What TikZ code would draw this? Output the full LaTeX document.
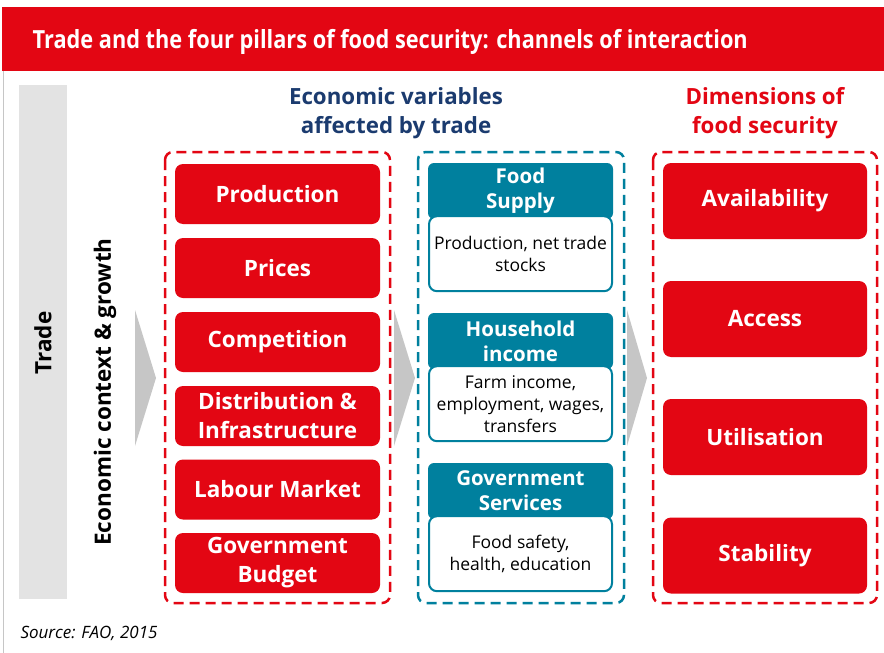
\documentclass[tikz,border=0pt]{standalone}
\usepackage{fontspec}
\setmainfont{Open Sans}
\newfontfamily\titlefont[FakeStretch=0.87]{Open Sans}
\usetikzlibrary{positioning}

\definecolor{faored}{HTML}{E30613}
\definecolor{faoteal}{HTML}{00809E}
\definecolor{faonavy}{HTML}{1B3B6F}
\definecolor{bargrey}{HTML}{E3E3E3}
\definecolor{arrowgrey}{HTML}{C6C6C6}

\tikzset{
  varbox/.style={fill=faored, rounded corners=8pt, minimum width=205pt, minimum height=60pt,
    inner sep=0pt, align=center, text=white, font=\bfseries\fontsize{22.5}{29}\selectfont},
  dimbox/.style={varbox, minimum width=204pt, minimum height=76pt},
  tealhead/.style={fill=faoteal, rounded corners=6pt, minimum width=185pt, minimum height=56pt,
    inner sep=0pt, align=center, text=white, font=\bfseries\fontsize{20.5}{25}\selectfont},
  tealbody/.style={fill=white, draw=faoteal, line width=2pt, rounded corners=8pt, minimum width=183pt,
    minimum height=75pt, inner sep=0pt, align=center, font=\fontsize{17.5}{22}\selectfont},
  reddash/.style={draw=faored, line width=2.5pt, dash pattern=on 10pt off 6pt, rounded corners=8pt},
  tealdash/.style={reddash, draw=faoteal},
  colhead/.style={align=center, font=\bfseries\fontsize{22.3}{29}\selectfont},
  chevron/.style={fill=arrowgrey}
}

\begin{document}
\begin{tikzpicture}[x=1pt, y=-1pt]
    \useasboundingbox (0,0) rectangle (884,653);
    \fill[white] (0,0) rectangle (884,653);

    % title bar and frame
    \fill[faored] (2,7) rectangle (884,71);
    \draw[arrowgrey, line width=1pt] (3,71) -- (3,653);
    \node[anchor=west, text=white, font=\titlefont\bfseries\fontsize{25}{30}\selectfont] (title) at (29,42)
        {Trade and the four pillars of food security: channels of interaction};

    % trade bar
    \fill[bargrey] (19,85) rectangle (67,599);
    \node[rotate=90, font=\bfseries\fontsize{22.5}{26}\selectfont] (trade) at (43,343) {Trade};
    \node[rotate=90, font=\bfseries\fontsize{22.5}{26}\selectfont] (context) at (105,392) {Economic context \& growth};

    % chevrons
    \fill[chevron] (135,310) -- (156,378) -- (135,446) -- cycle;
    \fill[chevron] (394,310) -- (415,378) -- (394,446) -- cycle;
    \fill[chevron] (627,310) -- (647,378) -- (627,446) -- cycle;

    % column headings
    \node[colhead, text=faonavy] (varhead) at (396,113.5) {Economic variables\\affected by trade};
    \node[colhead, text=faored] (dimhead) at (765,113.5) {Dimensions of\\food security};

    % economic variables
    \draw[reddash] (165,152) rectangle (390,603);
    \node[varbox] (production) at (277.5,194) {Production};
    \node[varbox] (prices) at (277.5,268) {Prices};
    \node[varbox] (competition) at (277.5,342) {Competition};
    \node[varbox] (distribution) at (277.5,416) {Distribution \&\\Infrastructure};
    \node[varbox] (labour) at (277.5,489.5) {Labour Market};
    \node[varbox] (budget) at (277.5,563) {Government\\Budget};

    % channels
    \draw[tealdash] (418,152) rectangle (624,603);
    \node[tealhead] (supply) at (520.5,191) {Food\\Supply};
    \node[tealbody, below=-4pt of supply] (supplytxt) {Production, net trade\\stocks};
    \node[tealhead] (income) at (520.5,341) {Household\\income};
    \node[tealbody, below=-4pt of income] (incometxt) {Farm income,\\employment, wages,\\transfers};
    \node[tealhead] (services) at (520.5,491) {Government\\Services};
    \node[tealbody, below=-4pt of services] (servicestxt) {Food safety,\\health, education};

    % dimensions
    \draw[reddash] (653,152) rectangle (877,603);
    \node[dimbox] (availability) at (765,201) {Availability};
    \node[dimbox] (access) at (765,319) {Access};
    \node[dimbox] (utilisation) at (765,437) {Utilisation};
    \node[dimbox] (stability) at (765,555.5) {Stability};

    \node[anchor=west, font=\itshape\fontsize{17}{20}\selectfont] (source) at (17,633) {Source: FAO, 2015};
\end{tikzpicture}
\end{document}
